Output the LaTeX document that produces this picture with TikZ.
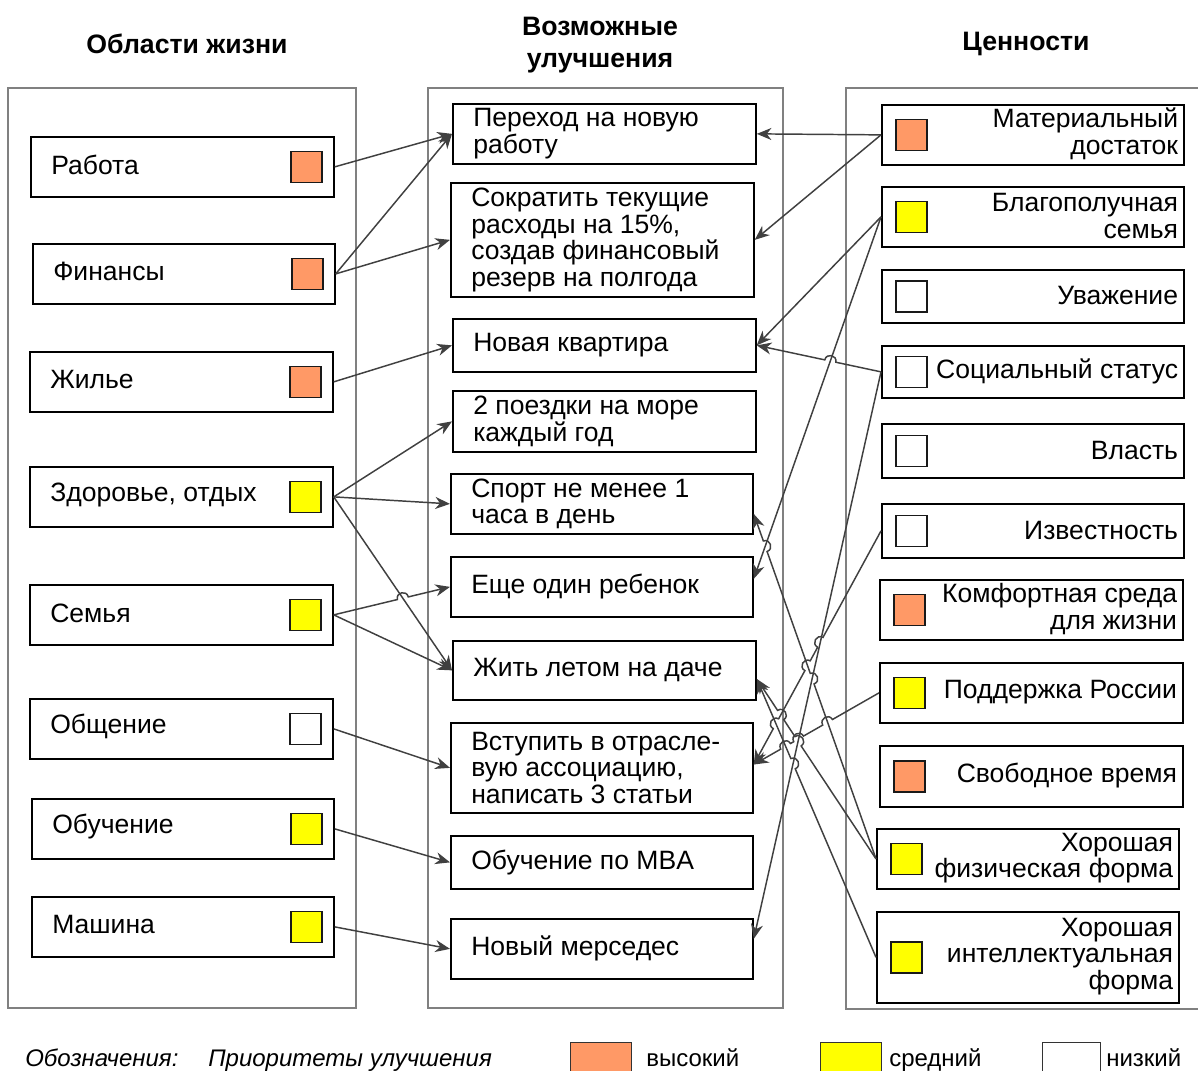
\documentclass[tikz,border=0pt]{standalone}
\usepackage{fontspec}
\setmainfont{Liberation Sans}
\usetikzlibrary{arrows.meta,calc,intersections}
\definecolor{hi}{HTML}{FF9966}
\definecolor{md}{HTML}{FFFF00}
\definecolor{ln}{HTML}{404040}
\definecolor{pan}{HTML}{808080}
\tikzset{
  panel/.style={draw=pan, line width=0.8pt},
  box/.style={draw=black, line width=1.3pt, inner sep=0pt, anchor=north west, fill=white},
  sq/.style={draw=black!90, line width=1.2pt, minimum size=23.25pt, inner sep=0pt},
  conn/.style={draw=ln, line width=1.1pt, -{Stealth[length=11pt,width=9pt,inset=3.5pt]}},
  txt/.style={font=\fontsize{19.9}{20}\selectfont, inner sep=0pt, align=left},
  ttl/.style={font=\fontsize{20}{24}\selectfont\bfseries, align=center, inner sep=0pt},
  leg/.style={font=\fontsize{18}{20}\selectfont, inner sep=0pt, anchor=base west},
  legbox/.style={draw=black!80, line width=1.1pt, anchor=north west, inner sep=0pt, minimum width=45.75pt, minimum height=30pt},
  hopover/.style n args={3}{insert path={-- ($(#1)!4.2pt!(#2)$) to[bend right=90,looseness=1.7] ($(#1)!4.2pt!(#3)$)}},
  hopL/.style n args={3}{insert path={-- ($(#1)!4.2pt!(#2)$) to[bend left=90,looseness=1.7] ($(#1)!4.2pt!(#3)$)}},
}
\newcommand\lbox[7]{%
  \node[box, minimum width=#4*0.75pt, minimum height=#5*0.75pt] (#1) at (#2,#3) {};
  \node[sq, fill=#6] (#1s) at ([xshift=-21.4pt]#1.east) {};
  \node[txt, anchor=west] (#1t) at ([xshift=15.75pt,yshift=1.5pt]#1.west) {#7};
}
\newcommand\midbox[6]{%
  \node[box, minimum width=#4*0.75pt, minimum height=#5*0.75pt] (#1) at (#2,#3) {};
  \node[txt, anchor=west] (#1t) at ([xshift=15.75pt]#1.west) {#6};
}
\newcommand\rbox[7]{%
  \node[box, minimum width=#4*0.75pt, minimum height=#5*0.75pt] (#1) at (#2,#3) {};
  \node[sq, fill=#6] (#1s) at ([xshift=22.9pt]#1.west) {};
  \node[txt, align=right, anchor=east] (#1t) at ([xshift=-4.8pt,yshift=0.6pt]#1.east) {#7};
}
\begin{document}
\begin{tikzpicture}[x=0.75pt, y=-0.75pt]
\clip (0,0) rectangle (1198,1070);
\fill[white] (0,0) rectangle (1198,1070);

% titles
\node[ttl] (t1) at (187,44) {Области жизни};
\node[ttl] (t2) at (600,45) {Возможные\\улучшения};
\node[ttl] (t3) at (1026,44) {Ценности};

% panels
\draw[panel] (8,88) rectangle (356,1008);
\draw[panel] (428,88) rectangle (783,1008);
\draw[panel] (846,88) rectangle (1215,1009);

% left column
\lbox{work}{30}{136}{303}{60}{hi}{Работа}
\lbox{fin}{32}{243}{302}{60}{hi}{Финансы}
\lbox{home}{29}{351}{303}{60}{hi}{Жилье}
\lbox{health}{29}{466}{303}{60}{md}{Здоровье, отдых}
\lbox{fam}{29}{584}{303}{60}{md}{Семья}
\lbox{comm}{29}{698}{303}{60}{white}{Общение}
\lbox{edu}{31}{798}{302}{60}{md}{Обучение}
\lbox{car}{31}{896}{302}{60}{md}{Машина}

% middle column
\midbox{trans}{452}{103}{303}{60}{Переход на новую\\работу}
\midbox{cut}{450}{182}{303}{114}{Сократить текущие\\расходы на 15\%,\\создав финансовый\\резерв на полгода}
\midbox{flat}{452}{318}{303}{53}{Новая квартира}
\midbox{sea}{452}{390}{303}{61}{2 поездки на море\\каждый год}
\midbox{sport}{450}{473}{302}{60}{Спорт не менее 1\\часа в день}
\midbox{child}{450}{556}{302}{60}{Еще один ребенок}
\midbox{dacha}{452}{640}{303}{59}{Жить летом на даче}
\midbox{assoc}{450}{722}{302}{90}{Вступить в отрасле-\\вую ассоциацию,\\написать 3 статьи}
\midbox{mba}{450}{835}{302}{53}{Обучение по MBA}
\midbox{merc}{450}{918}{302}{60}{Новый мерседес}

% right column
\rbox{mat}{881}{104}{302}{60}{hi}{Материальный\\достаток}
\rbox{blag}{881}{186}{302}{60}{md}{Благополучная\\семья}
\rbox{resp}{881}{269}{302}{53}{white}{Уважение}
\rbox{soc}{881}{345}{302}{52}{white}{Социальный статус}
\rbox{pow}{881}{423}{302}{54}{white}{Власть}
\rbox{fame}{881}{503}{302}{54}{white}{Известность}
\rbox{comf}{879}{579}{303}{60}{hi}{Комфортная среда\\для жизни}
\rbox{supp}{879}{662}{303}{60}{md}{Поддержка России}
\rbox{free}{879}{745}{303}{61}{hi}{Свободное время}
\rbox{phys}{876}{828}{302}{60}{md}{Хорошая\\физическая форма}
\rbox{intel}{876}{911}{302}{91}{md}{Хорошая\\интеллектуальная\\форма}

% left connectors
\draw[conn] (work.east) -- (trans.west);
\draw[conn] (fin.east) -- (trans.west);
\draw[conn] (fin.east) -- (cut.west);
\draw[conn] (home.east) -- (flat.west);
\draw[conn] (health.east) -- (sea.west);
\draw[conn] (health.east) -- (sport.west);
\draw[conn, name path=lh3] (health.east) -- (dacha.west);
\path[name path=lf1] (fam.east) -- (child.west);
\path[name intersections={of=lf1 and lh3, by=xl}];
\draw[conn] (fam.east) [hopL={xl}{fam.east}{child.west}] -- (child.west);
\draw[conn] (fam.east) -- (dacha.west);
\draw[conn] (comm.east) -- (assoc.west);
\draw[conn] (edu.east) -- (mba.west);
\draw[conn] (car.east) -- (merc.west);

% right connector ends
\coordinate (e4) at ([yshift=6pt]child.east);
\coordinate (e6) at ([yshift=7.5pt]merc.east);
\coordinate (e7) at ([yshift=2.5pt]assoc.east);
\coordinate (e9) at ([yshift=-7.5pt]sport.east);
\coordinate (e10) at ([yshift=-6.4pt]dacha.east);

\draw[conn] (mat.west) -- (trans.east);
\draw[conn] (mat.west) -- (cut.east);
\draw[conn] (blag.west) -- (flat.east);
\draw[conn, name path=r4] (blag.west) -- (e4);
\draw[conn, name path=r6] (soc.west) -- (e6);
\path[name path=r5] (soc.west) -- (flat.east);
\path[name path=r7] (fame.west) -- (e7);
\path[name path=r8] (supp.west) -- (e7);
\path[name path=r9] (phys.west) -- (e9);
\path[name path=r10] (phys.west) -- (e10);
\path[name path=r11] (intel.west) -- (e10);

\path[name intersections={of=r5 and r4, by=x54}];
\path[name intersections={of=r9 and r4, by=x94}];
\path[name intersections={of=r9 and r6, by=x96}];
\path[name intersections={of=r7 and r6, by=x76}];
\path[name intersections={of=r7 and r9, by=x79}];
\path[name intersections={of=r7 and r11, by=x711}];
\path[name intersections={of=r10 and r7, by=x107}];
\path[name intersections={of=r10 and r6, by=x106}];
\path[name intersections={of=r8 and r9, by=x89}];
\path[name intersections={of=r8 and r6, by=x86}];
\path[name intersections={of=r8 and r11, by=x811}];
\path[name intersections={of=r11 and r6, by=x116}];

\draw[conn] (soc.west) [hopover={x54}{soc.west}{flat.east}] -- (flat.east);
\draw[conn] (phys.west) [hopover={x96}{phys.west}{e9}] [hopover={x94}{phys.west}{e9}] -- (e9);
\draw[conn] (fame.west) [hopover={x76}{fame.west}{e7}] [hopover={x79}{fame.west}{e7}] [hopover={x711}{fame.west}{e7}] -- (e7);
\draw[conn] (phys.west) [hopover={x106}{phys.west}{e10}] [hopover={x107}{phys.west}{e10}] -- (e10);
\draw[conn] (supp.west) [hopover={x89}{supp.west}{e7}] [hopover={x86}{supp.west}{e7}] [hopover={x811}{supp.west}{e7}] -- (e7);
\draw[conn] (intel.west) [hopover={x116}{intel.west}{e10}] -- (e10);

% legend
\node[leg, font=\fontsize{18}{20}\selectfont\itshape] (lg1) at (25,1066) {Обозначения:};
\node[leg, font=\fontsize{18}{20}\selectfont\itshape] (lg2) at (208,1066) {Приоритеты улучшения};
\node[legbox, fill=hi] (lb1) at (570,1042) {};
\node[leg] (lt1) at (646,1066) {высокий};
\node[legbox, fill=md] (lb2) at (820,1042) {};
\node[leg] (lt2) at (889,1066) {средний};
\node[legbox, fill=white, minimum width=43.5pt] (lb3) at (1042,1042) {};
\node[leg] (lt3) at (1106,1066) {низкий};
\end{tikzpicture}
\end{document}
